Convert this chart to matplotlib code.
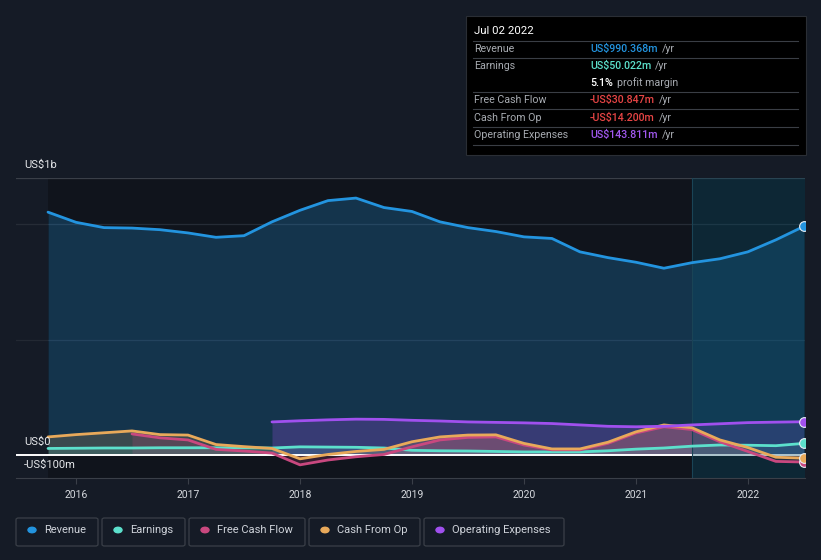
import matplotlib.pyplot as plt
from matplotlib.patches import FancyBboxPatch, Rectangle
from matplotlib.lines import Line2D

plt.rcParams['font.family'] = ['Roboto', 'DejaVu Sans']

# quarterly points, values in US$ m
quarters = [2015.75, 2016.0, 2016.25, 2016.5, 2016.75, 2017.0, 2017.25, 2017.5,
            2017.75, 2018.0, 2018.25, 2018.5, 2018.75, 2019.0, 2019.25, 2019.5,
            2019.75, 2020.0, 2020.25, 2020.5, 2020.75, 2021.0, 2021.25, 2021.5,
            2021.75, 2022.0, 2022.25, 2022.5]
revenue = [1052, 1008, 985, 983, 976, 962, 943, 950, 1010, 1060, 1102, 1113, 1072, 1055,
           1010, 985, 968, 945, 938, 880, 855, 835, 809, 833, 850, 880, 932, 990.368]
earnings = [28, 29, 30, 30, 31, 31, 31, 31, 30, 35, 34, 33, 30, 20, 18, 17, 15, 13, 13, 13,
            18, 25, 30, 38, 43, 42, 40, 50.022]
cash_from_op = [78, 88, 96, 104, 88, 86, 45, 36, 28, -17, 2, 15, 24, 57, 78, 86, 87, 50, 26, 26,
                55, 100, 130, 118, 65, 32, -10, -14.2]
fcf_quarters = quarters[3:]
free_cash_flow = [91, 74, 65, 24, 17, 8, -43, -22, -8, 2, 35, 65, 76, 78, 43, 22, 22, 50, 95,
                  122, 110, 57, 15, -28, -30.847]
opex_quarters = quarters[8:]
op_expenses = [143, 148, 152, 155, 154, 150, 147, 143, 141, 139, 136, 130, 124, 122, 124, 130,
               135, 140, 142, 143.811]

years = [2016, 2017, 2018, 2019, 2020, 2021, 2022]
highlight_start = 2021.5
tooltip_date = 'Jul 02 2022'

BG = '#151b26'
C_REV = '#2394df'
C_EARN = '#5ce0cc'
C_FCF = '#c9487f'
C_CFO = '#e8a95a'
C_OPEX = '#a050ee'

W, H = 821, 560
fig = plt.figure(figsize=(W / 100, H / 100), dpi=100, facecolor=BG)
ax = fig.add_axes([16 / W, 1 - 478 / H, (805 - 16) / W, 300 / H])
ax.set_facecolor(BG)
ax.set_xlim(2015.464, 2022.51)
ax.set_ylim(-100, 1200)

ax.axvspan(quarters[0], 2022.51, color='#10141c', zorder=0, lw=0)

for v, c in [(1000, '#262c36'), (500, '#232933'), (1200, '#3a3f48')]:
    ax.axhline(v, color=c, lw=0.9, zorder=0.5)

# fills
ax.fill_between(quarters, revenue, 0, color=C_REV, alpha=0.25, lw=0, zorder=1)
ax.fill_between(opex_quarters, op_expenses, 0, color=C_OPEX, alpha=0.25, lw=0, zorder=1.1)
ax.fill_between(quarters, cash_from_op, 0, color=C_CFO, alpha=0.18, lw=0, zorder=1.2)
ax.fill_between(fcf_quarters, free_cash_flow, 0, color=C_FCF, alpha=0.2, lw=0, zorder=1.3)
ax.fill_between(quarters, earnings, 0, color=C_EARN, alpha=0.15, lw=0, zorder=1.4)

ax.axhline(0, color='white', lw=1.4, zorder=1.5)

# last-year highlight
ax.axvspan(highlight_start, 2022.51, color='#08506a', alpha=0.32, lw=0, zorder=2)
ax.axvline(highlight_start, color='#1a4456', lw=0.8, zorder=2)

series = [
    (quarters, earnings, C_EARN),
    (fcf_quarters, free_cash_flow, C_FCF),
    (quarters, cash_from_op, C_CFO),
    (opex_quarters, op_expenses, C_OPEX),
    (quarters, revenue, C_REV),
]
for i, (xs, ys, c) in enumerate(series):
    ax.plot(xs, ys, color=c, lw=2.0, zorder=3 + i, solid_capstyle='round')
    ax.plot(xs[-1], ys[-1], 'o', color=c, ms=7, mec='#e8eef5', mew=0.8, zorder=10 + i)

for s in ['top', 'right', 'left']:
    ax.spines[s].set_visible(False)
ax.spines['bottom'].set_color('#3a3f48')
ax.spines['bottom'].set_position(('data', -100))
ax.set_yticks([])
ax.set_xticks(years)
ax.set_xticklabels([str(y) for y in years], color='#d6d9de', fontsize=7.5)
ax.tick_params(axis='x', colors='#3a3f48', length=4, width=0.8, pad=5, labelcolor='#d6d9de')


def px(x, y):
    return x / W, 1 - y / H


for lab, y in [('US$1b', 165), ('US$0', 442), ('-US$100m', 465)]:
    fig.text(*px(24, y), lab, color='#e6e8eb', fontsize=8, va='center', ha='left')

# tooltip
x0, y0 = px(466, 155)
x1, y1 = px(806, 16)
fig.patches.append(Rectangle((x0, y0), x1 - x0, y1 - y0, transform=fig.transFigure,
                             facecolor='black', edgecolor='#2a2e35', lw=0.8))
fig.text(*px(474, 31), tooltip_date, color='white', fontsize=8.2, va='center')
for ly in [41, 58, 92, 109, 127, 145]:
    fig.lines.append(Line2D([473 / W, 798 / W], [1 - ly / H] * 2, transform=fig.transFigure,
                            color='#3a3e45', lw=0.8))


def money(v):
    s = 'US$%.3fm' % abs(v)
    return '-' + s if v < 0 else s


rows = [
    ('Revenue', revenue[-1], '#2394df', 49),
    ('Earnings', earnings[-1], '#5ce0cc', 66),
    ('Free Cash Flow', free_cash_flow[-1], '#e84545', 100),
    ('Cash From Op', cash_from_op[-1], '#e84545', 118),
    ('Operating Expenses', op_expenses[-1], '#a259f0', 135),
]
fs = 7.7
for lab, v, c, y in rows:
    fig.text(*px(474, y), lab, color='#a8acb2', fontsize=fs, va='center')
    t = fig.text(*px(590, y), money(v), color=c, fontsize=fs, va='center', fontweight='medium')
    fig.canvas.draw()
    bb = t.get_window_extent()
    fig.text(bb.x1 / W + 4 / W, 1 - y / H, '/yr', color='#a8acb2', fontsize=fs, va='center')

margin = earnings[-1] / revenue[-1] * 100
t = fig.text(*px(590, 83), '%.1f%%' % margin, color='white', fontsize=fs, va='center',
             fontweight='medium')
fig.canvas.draw()
bb = t.get_window_extent()
fig.text(bb.x1 / W + 4 / W, 1 - 83 / H, 'profit margin', color='#a8acb2', fontsize=fs,
         va='center')

# legend
legend = [('Revenue', C_REV, 16, 98), ('Earnings', C_EARN, 102, 185),
          ('Free Cash Flow', C_FCF, 189, 305), ('Cash From Op', C_CFO, 309, 420),
          ('Operating Expenses', C_OPEX, 424, 564)]
for lab, c, lx0, lx1 in legend:
    bx, by = px(lx0, 546)
    fig.patches.append(FancyBboxPatch((bx, by), (lx1 - lx0) / W, 28 / H,
                                      boxstyle='round,pad=0,rounding_size=0.003',
                                      transform=fig.transFigure, facecolor='none',
                                      edgecolor='#3a3f48', lw=0.9))
    fig.patches.append(plt.Circle(px(lx0 + 16, 530), 4 / W, transform=fig.transFigure,
                                  color=c))
    fig.text(*px(lx0 + 28, 530), lab, color='#cfd3da', fontsize=8, va='center')

fig.savefig('out.png', dpi=100, facecolor=BG)
